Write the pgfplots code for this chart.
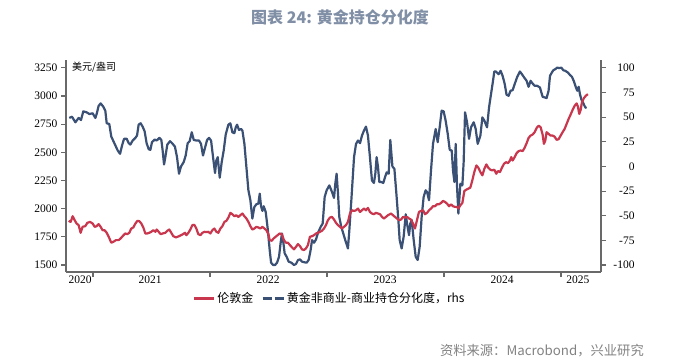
\documentclass[border=0pt]{standalone}
\usepackage{pgfplots}
\pgfplotsset{compat=1.18}
\usepackage{fontspec}
\setmainfont{Liberation Serif}
\newfontfamily\cjk{Noto Sans CJK SC}
\definecolor{goldred}{RGB}{200,55,77}
\definecolor{cotblue}{RGB}{58,80,117}
\definecolor{titlec}{RGB}{128,143,166}
\definecolor{axisgray}{RGB}{105,105,105}
\definecolor{srcgray}{RGB}{130,130,130}
\pgfplotsset{
  redleg/.style={legend image code/.code={\draw[goldred, line width=2.5pt] (0pt,0pt) -- (20pt,0pt);}},
  blueleg/.style={legend image code/.code={\draw[cotblue, line width=2.5pt, dash pattern=on 9pt off 3pt] (0pt,0pt) -- (21pt,0pt);}}
}
\begin{document}
\begin{tikzpicture}
\useasboundingbox (0,0) rectangle (680pt,364pt);
\node[font=\cjk\bfseries\fontsize{16}{18}\selectfont, text=titlec] at (340pt,347pt) {图表 24: 黄金持仓分化度};
\node[font=\cjk\fontsize{13.3}{15}\selectfont, text=srcgray, anchor=east, inner sep=0pt] at (644pt,13pt) {资料来源：Macrobond，兴业研究};

\begin{axis}[at={(66pt,92pt)}, anchor=south west, width=535pt, height=212pt, scale only axis,
  xmin=2020.769, xmax=2025.342, ymin=-107.1, ymax=108.0,
  axis x line=none, axis y line*=right,
  ytick={-100,-75,...,100},
  axis line style={axisgray, line width=1.3pt},
  tick style={axisgray, line width=1.1pt}, major tick length=5pt, tick align=outside,
  yticklabel style={font=\fontsize{11.5}{12}\selectfont, anchor=west, text width=25pt, align=right},
  /pgf/number format/assume math mode=true,
  /pgf/number format/1000 sep={}]
\addplot[cotblue, line width=2.2pt, line join=round] coordinates {
(2020.797,49.2)(2020.820,50.5)(2020.849,44.8)(2020.877,49.2)(2020.897,47.1)(2020.917,55.9)(2020.946,54.9)(2020.968,53.2)(2020.997,53.9)(2021.020,49.2)(2021.031,53.2)(2021.048,61.5)(2021.065,64.0)(2021.088,60.6)(2021.105,56.6)(2021.117,43.8)(2021.139,43.1)(2021.156,30.3)(2021.185,22.9)(2021.211,16.2)(2021.231,12.8)(2021.248,21.2)(2021.265,28.0)(2021.288,28.0)(2021.305,23.6)(2021.319,22.2)(2021.339,26.3)(2021.362,29.0)(2021.376,31.3)(2021.390,42.4)(2021.407,43.8)(2021.424,40.4)(2021.441,35.7)(2021.458,23.6)(2021.476,17.5)(2021.490,16.8)(2021.504,24.6)(2021.527,27.3)(2021.544,26.3)(2021.567,29.0)(2021.584,26.9)(2021.595,16.2)(2021.607,2.0)(2021.618,9.4)(2021.635,22.2)(2021.658,25.6)(2021.681,22.9)(2021.700,20.2)
(2021.718,9.4)(2021.735,-7.4)(2021.752,0.0)(2021.775,4.4)(2021.792,11.1)(2021.809,23.6)(2021.826,25.6)(2021.844,34.7)(2021.861,26.9)(2021.883,26.3)(2021.906,26.3)(2021.923,22.9)(2021.940,11.1)(2021.957,18.8)(2021.975,26.9)(2021.992,29.0)(2022.009,26.3)(2022.026,9.4)(2022.043,-6.7)(2022.054,6.1)(2022.066,9.4)(2022.083,-11.4)(2022.100,4.4)(2022.117,16.2)(2022.134,32.3)(2022.157,42.4)(2022.174,43.8)(2022.191,34.7)(2022.208,33.7)(2022.220,39.7)(2022.231,42.4)(2022.248,37.0)(2022.265,38.0)(2022.277,36.4)(2022.294,22.9)(2022.311,-0.7)(2022.328,-24.2)(2022.345,-34.3)(2022.362,-52.9)(2022.379,-41.1)(2022.396,-38.4)(2022.413,-37.7)(2022.425,-27.6)(2022.436,-40.4)(2022.448,-45.1)(2022.459,-40.4)(2022.476,-46.1)(2022.493,-63.0)(2022.510,-84.8)(2022.522,-97.6)(2022.539,-100.0)(2022.556,-100.0)(2022.573,-97.6)(2022.590,-91.6)(2022.603,-78.0)(2022.615,-68.0)(2022.626,-76.4)(2022.638,-88.2)(2022.655,-91.6)
(2022.672,-96.6)(2022.695,-97.6)(2022.718,-100.0)(2022.735,-99.0)(2022.752,-94.9)(2022.769,-94.3)(2022.786,-96.6)(2022.809,-97.3)(2022.826,-97.6)(2022.843,-94.9)(2022.860,-84.8)(2022.872,-74.7)(2022.889,-77.4)(2022.906,-74.1)(2022.923,-67.3)(2022.946,-61.3)(2022.963,-57.9)(2022.980,-31.0)(2022.997,-24.2)(2023.020,-19.2)(2023.037,-24.2)(2023.048,-27.6)(2023.060,-32.0)(2023.071,-17.5)(2023.082,-7.4)(2023.094,-27.6)(2023.105,-51.2)(2023.122,-61.3)(2023.139,-68.0)(2023.156,-74.7)(2023.179,-83.2)(2023.191,-64.6)(2023.208,-34.3)(2023.231,9.4)(2023.248,22.9)(2023.265,26.3)(2023.282,23.6)(2023.299,31.3)(2023.316,36.4)(2023.333,40.4)(2023.350,31.3)(2023.367,9.4)(2023.384,-14.1)(2023.401,-16.8)(2023.413,-7.4)(2023.424,9.4)(2023.436,-0.7)(2023.447,-15.8)(2023.464,-15.8)(2023.481,-16.8)(2023.498,-10.1)(2023.510,-6.1)(2023.527,-7.4)
(2023.541,26.9)(2023.559,0.0)(2023.576,-2.4)(2023.593,-27.6)(2023.610,-54.5)(2023.621,-74.7)(2023.638,-83.2)(2023.655,-71.4)(2023.673,-48.5)(2023.684,-57.9)(2023.701,-69.7)(2023.712,-57.9)(2023.724,-54.5)(2023.741,-74.7)(2023.758,-91.6)(2023.775,-94.9)(2023.792,-81.5)(2023.809,-51.2)(2023.826,-31.0)(2023.843,-24.2)(2023.855,-25.9)(2023.872,-34.3)(2023.889,-4.0)(2023.906,22.9)(2023.929,38.0)(2023.946,24.6)(2023.963,39.7)(2023.980,56.6)(2023.997,55.9)(2024.014,46.5)(2024.032,33.0)(2024.049,16.8)(2024.066,16.2)(2024.077,-4.0)(2024.089,-15.8)(2024.100,22.9)(2024.111,-19.2)(2024.123,-47.8)(2024.140,-17.5)(2024.157,-19.2)(2024.168,4.4)(2024.180,54.9)(2024.197,44.8)(2024.214,28.0)(2024.231,39.7)(2024.254,44.8)(2024.271,38.0)(2024.288,22.9)(2024.311,31.3)(2024.328,49.8)(2024.345,46.5)(2024.368,39.7)(2024.385,59.9)(2024.402,73.4)(2024.419,86.9)(2024.430,96.3)
(2024.444,96.3)(2024.467,93.6)(2024.484,97.0)(2024.501,91.9)(2024.518,84.2)(2024.535,72.7)(2024.552,71.7)(2024.569,76.8)(2024.587,77.4)(2024.604,83.5)(2024.626,90.9)(2024.649,96.3)(2024.666,93.6)(2024.689,89.6)(2024.706,86.9)(2024.723,80.8)(2024.740,86.9)(2024.757,84.2)(2024.775,81.8)(2024.797,81.8)(2024.820,80.1)(2024.843,70.7)(2024.860,70.0)(2024.877,69.4)(2024.894,76.8)(2024.906,91.9)(2024.917,94.3)(2024.934,97.6)(2024.951,98.7)(2024.968,100.3)(2024.985,99.7)(2025.003,100.3)(2025.020,97.6)(2025.037,97.0)(2025.059,95.3)(2025.076,92.9)(2025.094,90.9)(2025.111,86.2)(2025.128,80.1)(2025.139,76.8)(2025.151,80.8)(2025.162,73.4)(2025.173,68.4)(2025.191,64.0)(2025.208,59.9)(2025.219,59.3)
};
\end{axis}

\begin{axis}[at={(66pt,92pt)}, anchor=south west, width=535pt, height=212pt, scale only axis,
  xmin=2020.769, xmax=2025.342, ymin=1438, ymax=3320,
  axis x line*=bottom, axis y line*=left,
  ytick={1500,1750,...,3250},
  xtick={2021,2022,2023,2024,2025}, xticklabels={},
  extra x ticks={2020.889,2021.487,2022.496,2023.496,2024.496,2025.145},
  extra x tick labels={2020,2021,2022,2023,2024,2025},
  extra x tick style={major tick length=0pt},
  axis line style={axisgray, line width=1.3pt},
  tick style={axisgray, line width=1.1pt}, major tick length=5pt, tick align=outside,
  yticklabel style={font=\fontsize{11.5}{12}\selectfont},
  xticklabel style={font=\fontsize{11.5}{12}\selectfont},
  /pgf/number format/assume math mode=true,
  /pgf/number format/1000 sep={},
  legend style={at={(0.493,-0.125)}, anchor=center, draw=none, fill=none,
    legend columns=2, font=\cjk\fontsize{12}{13}\selectfont,
    /tikz/every even column/.append style={column sep=6pt}}]
\addplot[goldred, line width=2.2pt, line join=round, redleg] coordinates {
(2020.792,1892)(2020.809,1883)(2020.826,1933)(2020.843,1898)(2020.860,1868)(2020.877,1854)(2020.894,1786)(2020.911,1839)(2020.934,1845)(2020.951,1874)(2020.974,1883)(2020.997,1868)(2021.014,1839)(2021.031,1845)(2021.048,1863)(2021.065,1839)(2021.082,1809)(2021.099,1809)(2021.117,1786)(2021.134,1751)(2021.156,1698)(2021.174,1706)(2021.196,1721)(2021.219,1721)(2021.236,1736)(2021.253,1756)(2021.276,1780)(2021.293,1774)(2021.310,1786)(2021.327,1824)(2021.344,1833)(2021.362,1868)(2021.379,1892)(2021.396,1889)(2021.413,1868)(2021.430,1833)(2021.447,1780)(2021.464,1780)(2021.481,1786)(2021.498,1795)(2021.515,1809)(2021.533,1795)(2021.544,1815)(2021.561,1795)(2021.578,1774)(2021.595,1780)(2021.618,1786)(2021.635,1804)(2021.652,1815)(2021.669,1786)(2021.686,1756)(2021.709,1745)
(2021.735,1756)(2021.752,1765)(2021.769,1774)(2021.786,1786)(2021.798,1765)(2021.815,1786)(2021.832,1815)(2021.849,1854)(2021.866,1857)(2021.883,1824)(2021.900,1774)(2021.918,1765)(2021.935,1786)(2021.952,1795)(2021.969,1792)(2021.986,1795)(2022.003,1780)(2022.020,1809)(2022.037,1824)(2022.054,1795)(2022.071,1786)(2022.089,1824)(2022.106,1845)(2022.123,1883)(2022.140,1892)(2022.157,1921)(2022.174,1963)(2022.191,1951)(2022.208,1933)(2022.225,1942)(2022.242,1927)(2022.259,1942)(2022.277,1957)(2022.294,1933)(2022.311,1913)(2022.328,1883)(2022.345,1845)(2022.362,1815)(2022.379,1824)(2022.396,1839)(2022.413,1833)(2022.430,1824)(2022.448,1839)(2022.465,1824)(2022.482,1809)(2022.499,1774)(2022.510,1721)(2022.527,1715)(2022.544,1736)(2022.561,1751)(2022.578,1765)(2022.595,1780)(2022.613,1775)
(2022.632,1721)(2022.649,1698)(2022.666,1698)(2022.683,1677)(2022.701,1656)(2022.718,1639)(2022.735,1662)(2022.752,1686)(2022.769,1668)(2022.786,1639)(2022.803,1633)(2022.820,1647)(2022.837,1677)(2022.854,1751)(2022.872,1756)(2022.889,1765)(2022.906,1780)(2022.923,1786)(2022.940,1795)(2022.957,1804)(2022.974,1824)(2022.991,1854)(2023.008,1898)(2023.025,1921)(2023.042,1927)(2023.060,1904)(2023.077,1874)(2023.094,1854)(2023.111,1839)(2023.128,1824)(2023.145,1839)(2023.162,1854)(2023.179,1883)(2023.196,1957)(2023.213,1986)(2023.230,1980)(2023.248,1986)(2023.265,2001)(2023.282,1971)(2023.299,1986)(2023.316,2001)(2023.333,1986)(2023.350,2007)(2023.367,1971)(2023.384,1957)(2023.401,1951)(2023.418,1963)(2023.436,1957)(2023.453,1951)(2023.470,1927)(2023.487,1913)(2023.504,1927)(2023.521,1942)
(2023.547,1957)(2023.564,1942)(2023.581,1927)(2023.598,1913)(2023.616,1898)(2023.633,1904)(2023.650,1927)(2023.667,1921)(2023.684,1927)(2023.701,1913)(2023.718,1904)(2023.735,1868)(2023.752,1824)(2023.769,1898)(2023.786,1971)(2023.804,1980)(2023.821,1986)(2023.838,1951)(2023.855,1963)(2023.872,1986)(2023.889,2001)(2023.906,2022)(2023.923,2022)(2023.940,2039)(2023.957,2039)(2023.975,2051)(2023.992,2069)(2024.009,2060)(2024.026,2045)(2024.043,2022)(2024.060,2039)(2024.077,2022)(2024.094,2016)(2024.111,2016)(2024.123,2001)(2024.140,2030)(2024.157,2051)(2024.174,2157)(2024.191,2169)(2024.208,2178)(2024.225,2187)(2024.242,2251)(2024.259,2325)(2024.277,2384)(2024.294,2363)(2024.311,2325)(2024.328,2296)(2024.345,2354)(2024.362,2393)(2024.379,2363)(2024.396,2346)(2024.413,2340)(2024.430,2346)(2024.447,2310)
(2024.461,2334)(2024.478,2325)(2024.495,2363)(2024.513,2399)(2024.530,2413)(2024.547,2405)(2024.564,2428)(2024.575,2458)(2024.587,2428)(2024.604,2458)(2024.621,2493)(2024.638,2511)(2024.655,2517)(2024.672,2511)(2024.689,2540)(2024.706,2581)(2024.723,2628)(2024.740,2649)(2024.757,2658)(2024.775,2679)(2024.792,2717)(2024.809,2737)(2024.826,2723)(2024.843,2658)(2024.854,2575)(2024.866,2605)(2024.877,2679)(2024.894,2664)(2024.911,2649)(2024.928,2649)(2024.945,2640)(2024.963,2611)(2024.980,2617)(2024.997,2649)(2025.014,2679)(2025.031,2708)(2025.048,2752)(2025.065,2796)(2025.082,2835)(2025.099,2876)(2025.117,2914)(2025.134,2935)(2025.145,2905)(2025.156,2841)(2025.168,2876)(2025.179,2944)(2025.196,2982)(2025.213,3003)(2025.230,3017)
};
\addlegendentry{伦敦金}
\addlegendimage{blueleg}
\addlegendentry{黄金非商业-商业持仓分化度，rhs}
\end{axis}
\node[anchor=west, font=\cjk\fontsize{10}{11}\selectfont, inner sep=0pt] at (72pt,297pt) {美元/盎司};
\end{tikzpicture}
\end{document}
